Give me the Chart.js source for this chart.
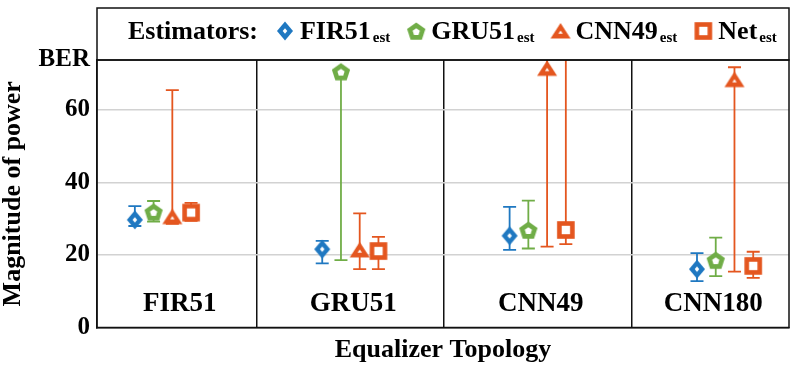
<!DOCTYPE html>
<html>
<head>
<meta charset="utf-8">
<script src="https://cdn.jsdelivr.net/npm/chart.js@4.4.0/dist/chart.umd.min.js"></script>
<style>
  html, body { margin: 0; padding: 0; background: #fff; }
  #wrap { width: 800px; height: 367px; }
</style>
</head>
<body>
<div id="wrap"><canvas id="grafico" width="800" height="367"></canvas></div>
<script>
// equalizer topologies on the x axis, estimators as series
const topologies = ['FIR51', 'GRU51', 'CNN49', 'CNN180'];
const estimators = ['FIR51', 'GRU51', 'CNN49', 'Net'];

const fir51Mid = [29.7, 21.6, 25.3, 16.1];
const fir51Lo  = [28.0, 17.7, 21.4, 12.8];
const fir51Hi  = [33.5, 23.9, 33.3, 20.5];

const gru51Mid = [31.9, 70.6, 26.9, 18.6];
const gru51Lo  = [29.2, 18.6, 21.8, 14.2];
const gru51Hi  = [34.9, 70.6, 35.0, 24.8];

const cnn49Mid = [30.6, 21.4, 71.5, 68.4];
const cnn49Lo  = [28.6, 16.1, 22.3, 15.4];
const cnn49Hi  = [65.5, 31.5, 90.0, 71.8];

const netMid = [31.7, 21.1, 26.9, 17.0];
const netLo  = [29.4, 16.1, 23.0, 13.7];
const netHi  = [34.4, 25.0, 90.0, 20.9];

const yTicks = [0, 20, 40, 60, 73.8];
const yTickLabels = ['0', '20', '40', '60', 'BER'];

const SERIF = "'Liberation Serif', 'Times New Roman', serif";
const colors = ['#1f78c1', '#70ad47', '#e4561f', '#e4561f'];
const shapes = ['diamond', 'pentagon', 'triangle', 'square'];
const offsets = [-0.15, -0.05, 0.05, 0.15];

function makeMarker(shape, color) {
    const c = document.createElement('canvas');
    c.width = 24; c.height = 24;
    const g = c.getContext('2d');
    const cx = 12, cy = 12;

    const poly = (pts) => {
        g.beginPath();
        pts.forEach((p, i) => i ? g.lineTo(p[0], p[1]) : g.moveTo(p[0], p[1]));
        g.closePath();
        g.fill();
    };
    const diamond = (w, h) => [[cx, cy - h], [cx + w, cy], [cx, cy + h], [cx - w, cy]];
    const pentagon = (r) => [0, 1, 2, 3, 4].map(k => {
        const a = -Math.PI / 2 + k * 2 * Math.PI / 5;
        return [cx + r * Math.cos(a), cy + 1 + r * Math.sin(a)];
    });
    const triangle = (s) => [[cx, cy + 1.5 - 9.5 * s], [cx + 10 * s, cy + 1.5 + 6 * s], [cx - 10 * s, cy + 1.5 + 6 * s]];
    const square = (h) => [[cx - h, cy - h], [cx + h, cy - h], [cx + h, cy + h], [cx - h, cy + h]];

    const build = {
        diamond: [diamond(8, 9.5), diamond(2.3, 2.7)],
        pentagon: [pentagon(9.6), pentagon(3.8)],
        triangle: [triangle(1), triangle(0.22)],
        square: [square(8.8), square(4.2)]
    }[shape];

    g.fillStyle = color;
    poly(build[0]);
    g.fillStyle = '#fff';
    poly(build[1]);
    return c;
}

const markers = shapes.map((s, i) => makeMarker(s, colors[i]));

function serie(mid, lo, hi, idx) {
    return mid.map((v, i) => ({ x: i + 1 + offsets[idx], y: v, lo: lo[i], hi: hi[i] }));
}

const series = [
    serie(fir51Mid, fir51Lo, fir51Hi, 0),
    serie(gru51Mid, gru51Lo, gru51Hi, 1),
    serie(cnn49Mid, cnn49Lo, cnn49Hi, 2),
    serie(netMid, netLo, netHi, 3)
];

const errorBars = {
    id: 'errorBars',
    beforeDatasetsDraw(chart) {
        const { ctx, chartArea: a, scales: { x, y } } = chart;
        ctx.save();
        ctx.beginPath();
        ctx.rect(a.left, a.top, a.right - a.left, a.bottom - a.top);
        ctx.clip();
        chart.data.datasets.forEach(ds => {
            ctx.strokeStyle = ds.borderColor;
            ctx.lineWidth = 1.8;
            ds.data.forEach(p => {
                const px = x.getPixelForValue(p.x);
                const top = y.getPixelForValue(p.hi);
                const bot = y.getPixelForValue(p.lo);
                ctx.beginPath();
                ctx.moveTo(px, top); ctx.lineTo(px, bot);
                ctx.moveTo(px - 6.5, top); ctx.lineTo(px + 6.5, top);
                ctx.moveTo(px - 6.5, bot); ctx.lineTo(px + 6.5, bot);
                ctx.stroke();
            });
        });
        ctx.restore();
    }
};

const frameAndLabels = {
    id: 'frameAndLabels',
    afterDraw(chart) {
        const { ctx, chartArea: a, scales: { x } } = chart;
        ctx.save();

        // plot frame
        ctx.strokeStyle = '#111';
        ctx.lineWidth = 1.5;
        ctx.strokeRect(a.left, a.top, a.right - a.left, a.bottom - a.top);

        // topology names inside each panel
        const edges = [a.left, x.getPixelForValue(1.5), x.getPixelForValue(2.5), x.getPixelForValue(3.5), a.right];
        ctx.fillStyle = '#000';
        ctx.font = `bold 27px ${SERIF}`;
        ctx.textAlign = 'center';
        ctx.textBaseline = 'alphabetic';
        topologies.forEach((t, i) => {
            ctx.fillText(t, (edges[i] + edges[i + 1]) / 2 + 3, a.bottom - 17);
        });

        // legend box
        const boxTop = 8;
        ctx.strokeRect(a.left, boxTop, a.right - a.left, a.top - boxTop);
        const base = 39;
        ctx.textAlign = 'left';
        ctx.font = `bold 26px ${SERIF}`;
        let cx = 128;
        ctx.fillText('Estimators:', cx, base);
        cx += ctx.measureText('Estimators:').width + 15;
        estimators.forEach((e, i) => {
            const m = markers[i];
            ctx.drawImage(m, cx, 31 - m.height / 2);
            cx += 27;
            ctx.font = `bold 26px ${SERIF}`;
            ctx.fillText(e, cx, base);
            cx += ctx.measureText(e).width + 2;
            ctx.font = `bold 15px ${SERIF}`;
            ctx.fillText('est', cx, base + 3);
            cx += ctx.measureText('est').width + 14;
        });
        ctx.restore();
    }
};

new Chart(document.getElementById('grafico').getContext('2d'), {
    type: 'scatter',
    data: {
        datasets: series.map((d, i) => ({
            label: estimators[i] + 'est',
            data: d,
            borderColor: colors[i],
            backgroundColor: colors[i],
            pointStyle: markers[i],
            pointRadius: 10
        }))
    },
    options: {
        responsive: false,
        animation: false,
        events: [],
        layout: { padding: { top: 60, right: 5, left: 0, bottom: 0 } },
        plugins: {
            legend: { display: false },
            tooltip: { enabled: false }
        },
        scales: {
            x: {
                type: 'linear',
                min: 0.648,
                max: 4.341,
                afterBuildTicks: (s) => { s.ticks = [1.5, 2.5, 3.5].map(v => ({ value: v })); },
                afterFit: (s) => { s.height = 39.5; },
                ticks: { display: false },
                grid: { color: '#111', lineWidth: 1.5, drawTicks: false },
                border: { display: true, color: '#111', width: 1.5 },
                title: {
                    display: true,
                    text: 'Equalizer Topology',
                    color: '#000',
                    font: { family: SERIF, size: 26, weight: 'bold', lineHeight: 1 },
                    padding: { top: 0, bottom: 4 }
                }
            },
            y: {
                min: 0,
                max: yTicks[yTicks.length - 1],
                afterBuildTicks: (s) => { s.ticks = yTicks.map(v => ({ value: v })); },
                afterFit: (s) => { s.width = 97; },
                ticks: {
                    color: '#000',
                    padding: 7,
                    font: { family: SERIF, size: 25, weight: 'bold' },
                    callback: (v) => yTickLabels[yTicks.indexOf(v)]
                },
                grid: {
                    drawTicks: false,
                    color: (c) => (c.tick && c.tick.value > 0 && c.tick.value < 70) ? '#d2d2d2' : 'rgba(0,0,0,0)',
                    lineWidth: 1.5
                },
                border: { display: true, color: '#111', width: 1.5 },
                title: {
                    display: true,
                    text: 'Magnitude of power',
                    color: '#000',
                    font: { family: SERIF, size: 26, weight: 'bold', lineHeight: 1 },
                    padding: { top: 0, bottom: 0 }
                }
            }
        }
    },
    plugins: [errorBars, frameAndLabels]
});
</script>
</body>
</html>
